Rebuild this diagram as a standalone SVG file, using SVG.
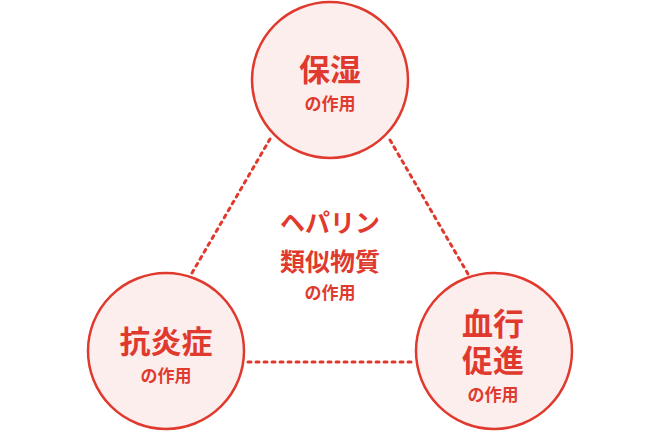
<svg xmlns="http://www.w3.org/2000/svg" width="667" height="432" viewBox="0 0 667 432">
<style>
.c{fill:#fdeeee;stroke:#e03a2f;stroke-width:2.5}
.l{fill:none;stroke:#e03a2f;stroke-width:3;stroke-linecap:round;stroke-dasharray:3 5}
text{font-family:"Noto Sans CJK JP","Noto Sans CJK SC",sans-serif;font-weight:700;fill:#e03a2f;text-anchor:middle}
.b{font-size:31px}
.s{font-size:17px}
.m{font-size:25px}
</style>
<rect width="667" height="432" fill="#fff"/>
<g id="connectors">
<line class="l" x1="270" y1="139" x2="192" y2="273"/>
<line class="l" x1="390" y1="140" x2="468" y2="274"/>
<line class="l" x1="248" y1="362" x2="413" y2="362"/>
</g>
<g id="node-hoshitsu">
<circle class="c" cx="330" cy="80" r="78"/>
<text class="b" x="330" y="81">保湿</text>
<text class="s" x="330" y="110">の作用</text>
</g>
<g id="node-kouenshou">
<circle class="c" cx="166" cy="351" r="78"/>
<text class="b" x="166" y="353">抗炎症</text>
<text class="s" x="166" y="382">の作用</text>
</g>
<g id="node-kekkou">
<circle class="c" cx="494" cy="351" r="78"/>
<text class="b" x="493" y="335">血行<tspan x="493" dy="37">促進</tspan></text>
<text class="s" x="493" y="401">の作用</text>
</g>
<g id="node-center">
<text class="m" x="330" y="232">ヘパリン</text>
<text class="m" x="330" y="271">類似物質</text>
<text class="s" x="330" y="299">の作用</text>
</g>
</svg>
